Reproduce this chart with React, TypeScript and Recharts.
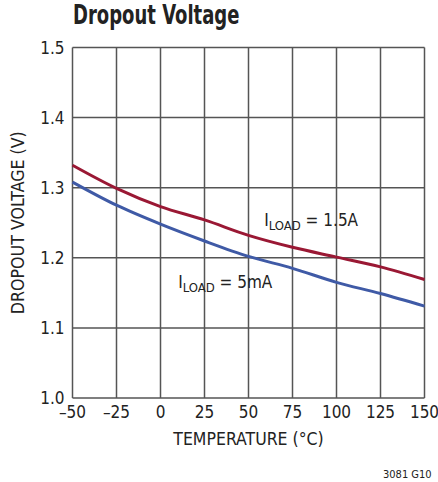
import { CartesianGrid, Line, LineChart, ReferenceDot, XAxis, YAxis } from "recharts";

const temps = [-50, -25, 0, 25, 50, 75, 100, 125, 150];
const load15A = [1.332, 1.299, 1.273, 1.254, 1.232, 1.215, 1.201, 1.187, 1.169];
const load5mA = [1.308, 1.275, 1.248, 1.224, 1.202, 1.185, 1.165, 1.149, 1.131];
const yTicks = [1.0, 1.1, 1.2, 1.3, 1.4, 1.5];

const data = temps.map((t, i) => ({ t, a: load15A[i], m: load5mA[i] }));

const FONT = "'Liberation Sans Narrow', 'DejaVu Sans Condensed', Arial, sans-serif";

function loadLabel(rest: string) {
  return (props: any) => {
    const { viewBox } = props;
    return (
      <text x={viewBox.x} y={viewBox.y} fill="#222" fontFamily={FONT} fontSize={17} style={{ whiteSpace: "pre" }}>
        <tspan>I</tspan>
        <tspan fontSize={13} dy={4}>LOAD</tspan>
        <tspan dy={-4}>{rest}</tspan>
      </text>
    );
  };
}

// y axis title, squeezed a bit to look like the narrow face of the original
function yTitle(props: any) {
  const { viewBox } = props;
  const x = 24;
  const y = viewBox.y + viewBox.height / 2;
  return (
    <text
      x={x}
      y={y}
      transform={`rotate(-90 ${x} ${y})`}
      textAnchor="middle"
      fill="#222"
      fontFamily={FONT}
      fontSize={17}
      textLength={183}
      lengthAdjust="spacingAndGlyphs"
    >
      DROPOUT VOLTAGE (V)
    </text>
  );
}

export default function App() {
  return (
    <div style={{ position: "absolute", left: 0, top: 0, width: 438, height: 482, background: "#fff", fontFamily: FONT }}>
      <div
        style={{
          position: "absolute",
          left: 73,
          top: 0,
          fontSize: 26,
          fontWeight: 700,
          color: "#222",
          whiteSpace: "nowrap",
          transform: "scaleX(0.77)",
          transformOrigin: "left top"
        }}
      >
        Dropout Voltage
      </div>
      <LineChart width={438} height={482} data={data} margin={{ top: 47.5, right: 13.5, left: 0, bottom: 34 }}>
        <CartesianGrid stroke="#555" strokeWidth={1.5} />
        <XAxis
          dataKey="t"
          type="number"
          domain={[-50, 150]}
          ticks={temps}
          axisLine={false}
          tickLine={false}
          height={50}
          tick={{ fontSize: 17, fill: "#222", fontFamily: FONT }}
          tickFormatter={(v) => String(v).replace("-", "\u2013")}
          label={{ value: "TEMPERATURE (°C)", position: "insideBottom", offset: 3, fontSize: 17.5, fill: "#222", fontFamily: FONT }}
        />
        <YAxis
          type="number"
          domain={[1.0, 1.5]}
          ticks={yTicks}
          axisLine={false}
          tickLine={false}
          width={72.5}
          tickFormatter={(v) => v.toFixed(1)}
          tick={{ fontSize: 17, fill: "#222", fontFamily: FONT }}
          label={{ content: yTitle }}
        />
        <Line type="monotone" dataKey="a" stroke="#9a1834" strokeWidth={3} dot={false} isAnimationActive={false} />
        <Line type="monotone" dataKey="m" stroke="#3f5aa6" strokeWidth={3} dot={false} isAnimationActive={false} />
        <ReferenceDot x={59.5} y={1.244} r={1} fill="none" stroke="none" label={loadLabel(" = 1.5A")} />
        <ReferenceDot x={10.6} y={1.156} r={1} fill="none" stroke="none" label={loadLabel(" = 5mA")} />
      </LineChart>
      <div style={{ position: "absolute", left: 383, top: 468, fontSize: 11, color: "#222" }}>3081 G10</div>
    </div>
  );
}
